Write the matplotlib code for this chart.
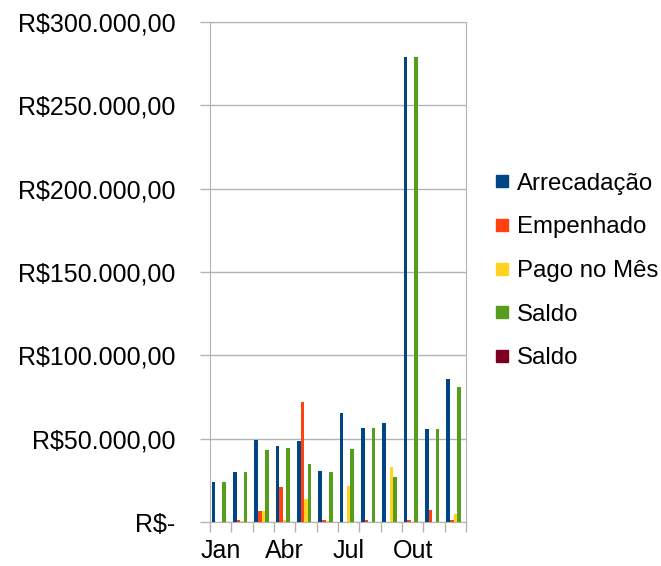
import numpy as np
import matplotlib
matplotlib.use("Agg")
import matplotlib.pyplot as plt
from matplotlib.lines import Line2D
from matplotlib.ticker import FuncFormatter, MultipleLocator

months = ["Jan", "Fev", "Mar", "Abr", "Mai", "Jun", "Jul", "Ago", "Set", "Out", "Nov", "Dez"]
series_names = ["Arrecadação", "Empenhado", "Pago no Mês", "Saldo", "Saldo"]
arrecadacao = [23800, 30200, 49400, 45400, 48800, 30600, 65600, 56400, 59600, 279000, 55600, 85600]
empenhado   = [0, 1400, 6800, 21200, 72200, 1400, 0, 1200, 0, 1200, 7200, 1400]
pago_no_mes = [0, 600, 6800, 1400, 14000, 500, 21800, 0, 33000, 0, 0, 5000]
saldo       = [23800, 29800, 43400, 44400, 34800, 30200, 44000, 56400, 27000, 279000, 55600, 81000]
saldo2      = [0, 0, 0, 0, 0, 0, 0, 0, 0, 0, 0, 0]
values = [arrecadacao, empenhado, pago_no_mes, saldo, saldo2]
colors = ["#004586", "#ff420e", "#ffd320", "#579d1c", "#7e0021"]

plt.rcParams['font.family'] = ['Liberation Sans', 'DejaVu Sans']
FS = 18

fig = plt.figure(figsize=(6.61, 5.66), dpi=100)
ax = fig.add_axes([210/661, 1-522/566, 256/661, 500/566])

w = 1/6
x = np.arange(len(months))
for i, (vals, c) in enumerate(zip(values, colors)):
    ax.bar(x - 0.5 + w*(i + 0.5), vals, width=w, color=c, align='edge', zorder=3)

ax.set_xlim(-0.5, len(months)-0.5)
ax.set_ylim(0, 300000)
ax.yaxis.set_major_locator(MultipleLocator(50000))

def fmt(v, pos):
    if v == 0:
        return "R$-"
    s = f"{v:,.2f}".replace(",", "X").replace(".", ",").replace("X", ".")
    return "R$" + s
ax.yaxis.set_major_formatter(FuncFormatter(fmt))

ax.set_xticks(x)
ax.set_xticklabels([m if i % 3 == 0 else "" for i, m in enumerate(months)])
ax.set_xticks(np.arange(len(months)+1) - 0.5, minor=True)
ax.tick_params(axis='x', which='major', length=0, pad=12, labelsize=FS)
ax.tick_params(axis='x', which='minor', length=7, color='#b3b3b3', width=1)
ax.tick_params(axis='y', length=7, color='#b3b3b3', width=1, pad=18, labelsize=FS)

ax.grid(axis='y', color='#b3b3b3', linewidth=1, zorder=0)
for s in ['top', 'right', 'left', 'bottom']:
    ax.spines[s].set_color('#b3b3b3')

handles = [Line2D([], [], marker='s', linestyle='none', markersize=9, color=c) for c in colors]
fig.legend(handles, series_names, loc='center left', bbox_to_anchor=(495/661, 1-271/566),
           frameon=False, fontsize=17.3, handlelength=0.6, handletextpad=0.3, labelspacing=0.9,
           borderaxespad=0, borderpad=0)

fig.savefig("out.png", dpi=100)
